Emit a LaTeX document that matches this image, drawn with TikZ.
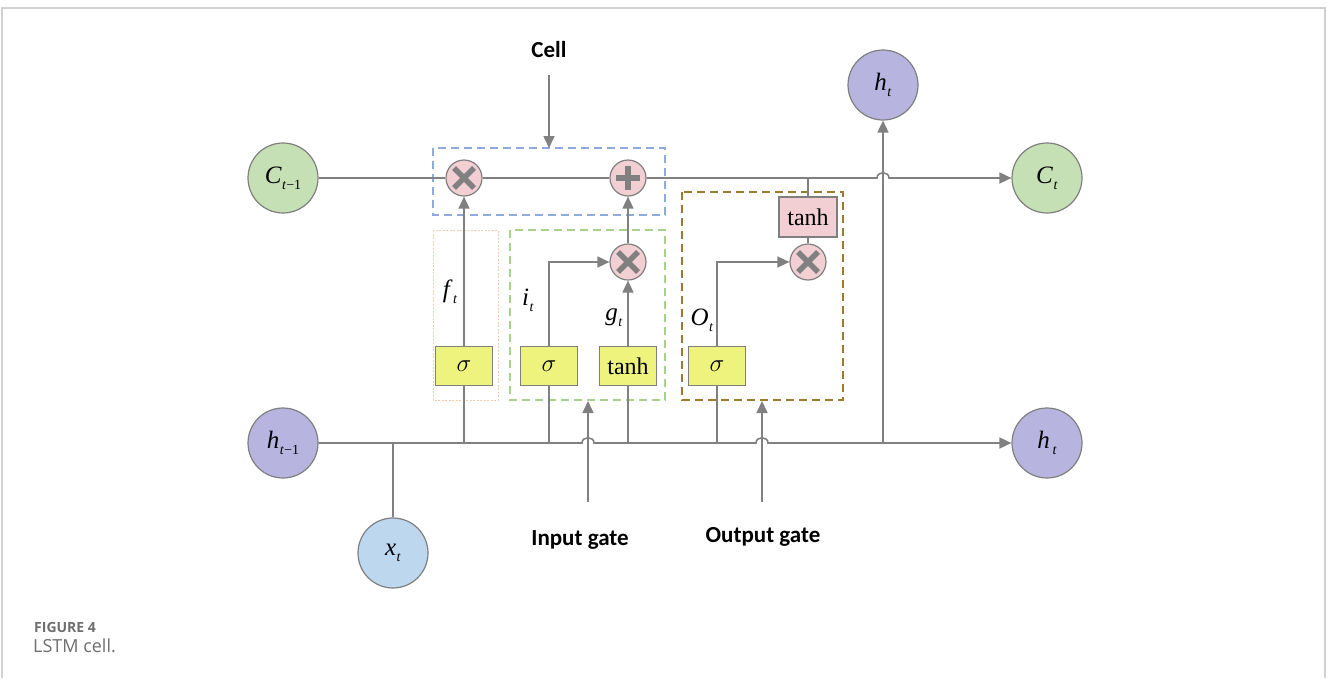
\documentclass[tikz,border=0pt]{standalone}
\usepackage{fontspec}
\setmainfont{Liberation Serif}
\newfontfamily\lblfont{Carlito}
\newfontfamily\capfont{Open Sans}
\usetikzlibrary{arrows.meta}
\definecolor{linegray}{HTML}{808080}
\definecolor{edgegray}{HTML}{7F7F7F}
\definecolor{stgreen}{HTML}{C5E0B4}
\definecolor{stpurple}{HTML}{B7B4E0}
\definecolor{stblue}{HTML}{BDD7EE}
\definecolor{oppink}{HTML}{F2CFD3}
\definecolor{actyel}{HTML}{EEF37E}
\definecolor{cellblue}{HTML}{8FAADC}
\definecolor{ingreen}{HTML}{A9D18E}
\definecolor{fgorange}{HTML}{F8CBAD}
\definecolor{outbrown}{HTML}{9C7A2E}
\definecolor{framegray}{HTML}{D0D0D0}
\definecolor{capgray}{HTML}{6E6E6E}
\newcommand{\vsym}[2]{\textit{#1}\kern0.5pt\raisebox{-6pt}{\fontsize{14}{14}\selectfont #2}}
\tikzset{
  conn/.style={draw=linegray, line width=1.6pt},
  arr/.style={conn, -{Triangle[length=12pt,width=11pt]}},
  state/.style={circle, draw=edgegray, line width=1.2pt, minimum size=70pt, inner sep=0pt, font=\fontsize{25}{25}\selectfont},
  opnode/.style={circle, draw=edgegray, fill=oppink, line width=1.2pt, minimum size=36pt, inner sep=0pt},
  mulop/.style={opnode, path picture={
     \draw[line width=5.5pt, draw=linegray] ([shift={(-10pt,-10pt)}]path picture bounding box.center) -- ([shift={(10pt,10pt)}]path picture bounding box.center);
     \draw[line width=5.5pt, draw=linegray] ([shift={(-10pt,10pt)}]path picture bounding box.center) -- ([shift={(10pt,-10pt)}]path picture bounding box.center);}},
  addop/.style={opnode, path picture={
     \draw[line width=5.5pt, draw=linegray] ([shift={(-12pt,0pt)}]path picture bounding box.center) -- ([shift={(12pt,0pt)}]path picture bounding box.center);
     \draw[line width=5.5pt, draw=linegray] ([shift={(0pt,-12pt)}]path picture bounding box.center) -- ([shift={(0pt,12pt)}]path picture bounding box.center);}},
  actbox/.style={rectangle, draw=edgegray, fill=actyel, line width=1.2pt, minimum width=57pt, minimum height=39pt, inner sep=0pt, font=\fontsize{24}{24}\selectfont},
  tanhbox/.style={actbox, fill=oppink, minimum width=58pt, minimum height=40pt},
  glabel/.style={font=\fontsize{25}{25}\selectfont},
  bigl/.style={font=\lblfont\bfseries\fontsize{23}{23}\selectfont},
}
\begin{document}
\begin{tikzpicture}[x=1pt,y=-1pt]
\useasboundingbox (0,0) rectangle (1327,678);
% frame
\draw[framegray, line width=1.5pt] (2,678) -- (2,8) -- (1325,8) -- (1325,678);

% group boxes
\draw[cellblue, line width=1.4pt, dash pattern=on 8pt off 5pt] (433,148) rectangle (665,215);
\draw[fgorange, line width=1pt, dash pattern=on 2pt off 1.5pt] (433,230) rectangle (498,400);
\draw[ingreen, line width=1.4pt, dash pattern=on 8pt off 5pt] (510,230) rectangle (665,400);
\draw[outbrown, line width=1.4pt, dash pattern=on 8pt off 5pt] (682,192) rectangle (843,400);

% state nodes
\node[state, fill=stgreen] (C0) at (283,178) {\vsym{C}{\textit{t}−1}};
\node[state, fill=stgreen] (Ct) at (1047,178) {\vsym{C}{\textit{t}}};
\node[state, fill=stpurple] (hT) at (883,85) {\vsym{h}{\textit{t}}};
\node[state, fill=stpurple] (h0) at (283,443) {\vsym{h}{\textit{t}−1}};
\node[state, fill=stpurple] (hB) at (1047,443) {\vsym{h}{\,\textit{t}}};
\node[state, fill=stblue] (xt) at (393,553) {\vsym{x}{\textit{t}}};

% operators
\node[mulop] (m1) at (464,178) {};
\node[addop] (a1) at (628,178) {};
\node[mulop] (m2) at (628,262) {};
\node[mulop] (m3) at (808,262) {};
\node[tanhbox] (th2) at (808,217) {tanh};

% activations
\node[actbox] (sf) at (464,366) {$\sigma$};
\node[actbox] (si) at (549,366) {$\sigma$};
\node[actbox] (tg) at (628,366) {tanh};
\node[actbox] (so) at (717,366) {$\sigma$};

% junction coordinates
\coordinate (jc) at (808,178);
\coordinate (jx) at (393,443);
\coordinate (jf) at (464,443);
\coordinate (ji) at (549,443);
\coordinate (jg) at (628,443);
\coordinate (jo) at (717,443);
\coordinate (jh) at (883,443);
\coordinate (ti) at (549,262);
\coordinate (to) at (717,262);
\coordinate (inS) at (588,502);
\coordinate (inE) at (588,401);
\coordinate (outS) at (762,502);
\coordinate (outE) at (762,401);
\coordinate (cellS) at (549,75);
\coordinate (cellE) at (549,148);

% cell line
\draw[conn] (C0) -- (m1);
\draw[conn] (m1) -- (a1);
\draw[arr] (a1) -- (877,178) .. controls (877,171) and (889,171) .. (889,178) -- (Ct);
\draw[conn] (jc) -- (th2);
\draw[conn] (th2) -- (m3);

% hidden line
\draw[arr] (h0) -- (582,443) .. controls (582,436) and (594,436) .. (594,443) -- (756,443) .. controls (756,436) and (768,436) .. (768,443) -- (hB);
\draw[conn] (xt) -- (jx);
\draw[arr] (jh) -- (hT);

% gates
\draw[conn] (jf) -- (sf);
\draw[arr] (sf) -- (m1);
\draw[conn] (ji) -- (si);
\draw[arr] (si) -- (ti) -- (m2);
\draw[conn] (jg) -- (tg);
\draw[arr] (tg) -- (m2);
\draw[arr] (m2) -- (a1);
\draw[conn] (jo) -- (so);
\draw[arr] (so) -- (to) -- (m3);

% pointer arrows
\draw[arr] (inS) -- (inE);
\draw[arr] (outS) -- (outE);
\draw[arr] (cellS) -- (cellE);

% labels
\node[glabel] (lf) at (450,292) {\vsym{f}{\textit{t}}};
\node[glabel] (li) at (528,300) {\vsym{i}{\textit{t}}};
\node[glabel] (lg) at (614,318) {\vsym{g}{\textit{t}}};
\node[glabel] (lo) at (702,320) {\vsym{O}{\textit{t}}};

\node[bigl] (cellL) at (549,50) {Cell};
\node[bigl] (inL) at (580,540) {Input gate};
\node[bigl] (outL) at (763,537) {Output gate};

% caption
\node[anchor=west, inner sep=0pt, text=capgray, font=\capfont\bfseries\fontsize{14}{14}\selectfont] (fig) at (34,627) {FIGURE 4};
\node[anchor=west, inner sep=0pt, text=capgray, font=\capfont\fontsize{18}{18}\selectfont] (cap) at (33,646) {LSTM cell.};
\end{tikzpicture}
\end{document}
